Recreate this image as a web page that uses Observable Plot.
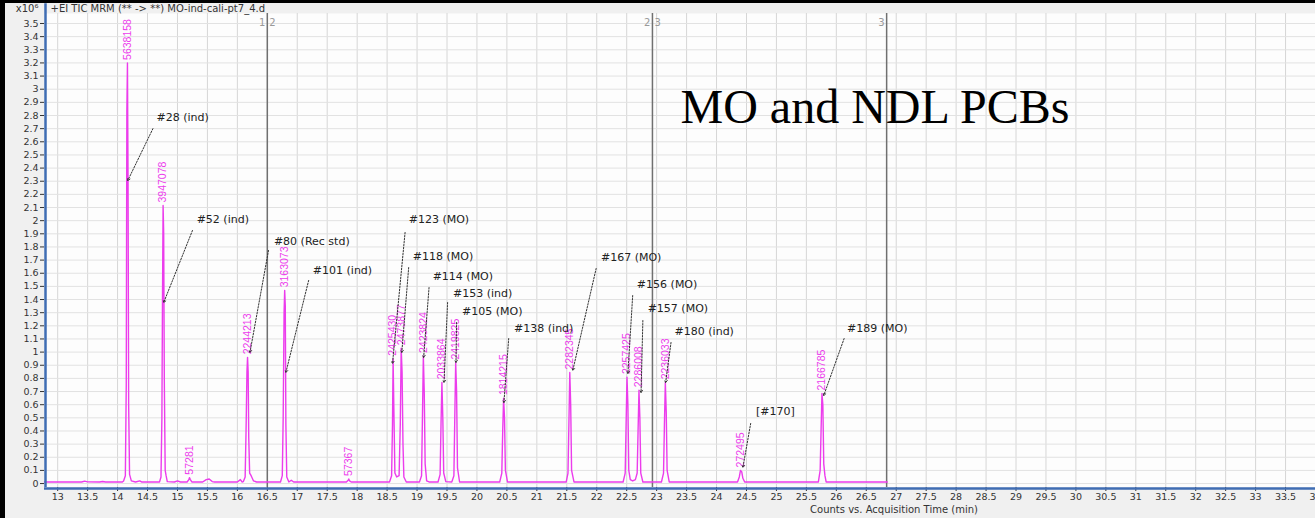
<!DOCTYPE html>
<html><head><meta charset="utf-8">
<script src="https://cdn.jsdelivr.net/npm/d3@7"></script>
<script src="https://cdn.jsdelivr.net/npm/@observablehq/plot@0.6"></script>
<style>
html,body{margin:0;padding:0;background:#000;width:1315px;height:518px;overflow:hidden;}
#chart{position:absolute;left:5px;top:3px;}
</style></head><body><div id="chart"></div>
<script>
// ---- data ----
const xTicks = [13,13.5,14,14.5,15,15.5,16,16.5,17,17.5,18,18.5,19,19.5,20,20.5,21,21.5,22,22.5,23,23.5,24,24.5,25,25.5,26,26.5,27,27.5,28,28.5,29,29.5,30,30.5,31,31.5,32,32.5,33,33.5,34];
const yTicks = [0,0.1,0.2,0.3,0.4,0.5,0.6,0.7,0.8,0.9,1,1.1,1.2,1.3,1.4,1.5,1.6,1.7,1.8,1.9,2,2.1,2.2,2.3,2.4,2.5,2.6,2.7,2.8,2.9,3,3.1,3.2,3.3,3.4,3.5];
const xDomain = [12.78, 34.0];
const yDomain = [-0.03, 3.576];
const axisTop = 3.65;

// TIC trace [time (min), counts x10^6]
const trace = [
  [12.78,0.012],[13.4,0.012],[13.45,0.018],[13.5,0.013],[13.7,0.012],[13.75,0.016],[13.8,0.012],[14.08,0.012],
  [14.10,0.02],[14.13,0.06],[14.145,0.75],[14.155,2.83],[14.165,3.20],[14.175,2.30],[14.185,0.6],[14.20,0.07],[14.23,0.02],[14.3,0.012],[14.37,0.02],[14.4,0.012],
  [14.70,0.012],[14.725,0.05],[14.74,0.5],[14.75,1.4],[14.76,2.115],[14.77,1.9],[14.78,0.8],[14.795,0.1],[14.81,0.06],[14.83,0.015],[14.95,0.012],[15.0,0.02],[15.05,0.012],
  [15.16,0.012],[15.19,0.03],[15.20,0.045],[15.215,0.03],[15.24,0.012],
  [15.42,0.012],[15.48,0.03],[15.53,0.035],[15.58,0.015],[15.62,0.012],
  [16.0,0.012],[16.05,0.03],[16.08,0.012],
  [16.10,0.015],[16.13,0.05],[16.145,0.4],[16.16,0.85],[16.17,0.96],[16.18,0.85],[16.19,0.35],[16.205,0.08],[16.23,0.06],[16.27,0.02],[16.32,0.012],
  [16.72,0.012],[16.75,0.06],[16.765,0.5],[16.78,1.3],[16.79,1.47],[16.80,1.35],[16.81,0.45],[16.825,0.05],[16.86,0.012],[16.9,0.025],[16.94,0.012],
  [17.82,0.012],[17.85,0.025],[17.86,0.035],[17.875,0.02],[17.9,0.012],
  [18.54,0.012],[18.575,0.06],[18.59,0.45],[18.60,0.95],[18.615,0.5],[18.63,0.08],
  [18.66,0.05],[18.70,0.06],[18.72,0.45],[18.735,1.03],[18.75,0.85],[18.765,0.3],[18.78,0.05],[18.82,0.012],
  [19.04,0.012],[19.075,0.06],[19.09,0.5],[19.105,0.97],[19.12,0.7],[19.135,0.15],[19.16,0.02],[19.2,0.012],
  [19.35,0.012],[19.385,0.07],[19.40,0.45],[19.415,0.77],[19.43,0.5],[19.445,0.08],[19.48,0.015],
  [19.58,0.012],[19.615,0.06],[19.63,0.5],[19.645,0.92],[19.66,0.7],[19.675,0.12],[19.71,0.012],
  [20.38,0.012],[20.415,0.08],[20.43,0.4],[20.445,0.65],[20.46,0.5],[20.475,0.1],[20.51,0.012],
  [21.49,0.012],[21.52,0.08],[21.535,0.45],[21.55,0.845],[21.565,0.6],[21.58,0.1],[21.62,0.012],
  [22.44,0.012],[22.475,0.08],[22.49,0.45],[22.505,0.81],[22.52,0.6],[22.535,0.1],[22.56,0.03],[22.6,0.02],
  [22.645,0.03],[22.675,0.08],[22.69,0.4],[22.705,0.71],[22.72,0.5],[22.735,0.08],[22.77,0.012],
  [23.08,0.012],[23.115,0.08],[23.13,0.45],[23.145,0.77],[23.16,0.55],[23.175,0.1],[23.21,0.012],
  [24.35,0.012],[24.38,0.05],[24.40,0.10],[24.42,0.09],[24.44,0.04],[24.47,0.012],
  [25.70,0.012],[25.73,0.1],[25.745,0.4],[25.76,0.685],[25.775,0.6],[25.79,0.15],[25.81,0.06],[25.83,0.012],
  [26.85,0.012]
];

// peak area labels (time, apex height, text)
const peakTimes  = [14.165,14.76,15.20,16.17,16.79,17.86,18.60,18.735,19.105,19.415,19.645,20.445,21.55,22.505,22.705,23.145,24.40,25.76];
const peakTops   = [3.20,2.115,0.045,0.96,1.47,0.035,0.95,1.03,0.97,0.77,0.92,0.65,0.845,0.81,0.71,0.77,0.10,0.685];
const peakAreas  = ["5638158","3947078","57281","2244213","3163073","57367","2425430","2473877","2423824","2033864","2419825","1814215","2282345","2257425","2286008","2236033","272495","2166785"];

// compound annotations: label position, leader start, leader tip
const annNames = ["#28 (ind)","#52 (ind)","#80 (Rec std)","#101 (ind)","#123 (MO)","#118 (MO)","#114 (MO)","#153 (ind)","#105 (MO)","#138 (ind)","#167 (MO)","#156 (MO)","#157 (MO)","#180 (ind)","[#170]","#189 (MO)"];
const annTextT  = [14.65,15.32,16.61,17.26,18.86,18.93,19.26,19.60,19.75,20.62,22.07,22.67,22.85,23.30,24.66,26.18];
const annTextV  = [2.785,2.01,1.84,1.62,2.01,1.727,1.575,1.446,1.309,1.179,1.72,1.514,1.331,1.156,0.548,1.179];
const annFromT  = [14.59,15.25,16.52,17.19,18.80,18.86,19.20,19.51,19.66,20.53,21.99,22.60,22.77,23.24,24.57,26.13];
const annFromV  = [2.70,1.925,1.773,1.545,1.91,1.643,1.491,1.377,1.225,1.103,1.636,1.43,1.24,1.073,0.457,1.103];
const annToT    = [14.17,14.77,16.21,16.81,18.59,18.745,19.11,19.45,19.65,20.45,21.60,22.52,22.74,23.15,24.44,25.79];
const annToV    = [2.305,1.377,0.997,0.845,0.913,0.997,0.959,0.768,0.921,0.616,0.86,0.837,0.692,0.768,0.122,0.67];

// time-segment boundaries
const segTimes = [16.5, 22.93, 26.84];
const segLeft  = ["1","2","3"];
const segRight = ["2","3",""];

const headerText = "+EI TIC MRM (** -> **) MO-ind-cali-pt7_4.d";
const scaleText = "x10\u2076";
const titleText = "MO and NDL PCBs";
const xLabel = "Counts vs. Acquisition Time (min)";

// ---- build tables ----
const peaks = peakTimes.map((t,i)=>({t, v: peakTops[i], text: peakAreas[i]}));
const anns = annNames.map((n,i)=>({n, tt: annTextT[i], tv: annTextV[i], ft: annFromT[i], fv: annFromV[i], pt: annToT[i], pv: annToV[i]}));
const segs = segTimes.map((t,i)=>({t, l: segLeft[i], r: segRight[i]}));

const font = "DejaVu Sans, Verdana, sans-serif";
const narrow = "Liberation Sans Narrow, Liberation Sans, Arial, sans-serif";
const magenta = "#ec3cec";
const axisBlue = "#3f6db3";
const fmt = d => String(d);

const chart = Plot.plot({
  width: 1310, height: 515,
  marginLeft: 39, marginRight: 0, marginTop: 10, marginBottom: 31,
  style: {background: "#f0f0f0", fontFamily: font, overflow: "visible"},
  x: {domain: xDomain},
  y: {domain: yDomain},
  marks: [
    Plot.frame({fill: "#fdfdfd", stroke: null}),
    Plot.gridX(xTicks, {stroke: "#d6d6d6", strokeOpacity: 1}),
    Plot.gridY(yTicks, {stroke: "#e2e2e2", strokeOpacity: 1}),
    Plot.ruleX(segs, {x: "t", stroke: "#707070", strokeWidth: 1.5}),
    Plot.text(segs, {x: "t", text: "l", frameAnchor: "top", lineAnchor: "middle", textAnchor: "end", dx: -2, dy: 9, fill: "#999", fontSize: 10}),
    Plot.text(segs, {x: "t", text: "r", frameAnchor: "top", lineAnchor: "middle", textAnchor: "start", dx: 2, dy: 9, fill: "#999", fontSize: 10}),
    Plot.line(trace, {x: d => d[0], y: d => d[1], stroke: magenta, strokeWidth: 1.4}),
    Plot.text(peaks, {x: "t", y: "v", text: "text", rotate: -90, textAnchor: "start", lineAnchor: "middle", dy: -3, fill: magenta, fontSize: 10.5, fontFamily: narrow}),
    Plot.arrow(anns, {x1: "ft", y1: "fv", x2: "pt", y2: "pv", stroke: "#333", strokeWidth: 1, strokeDasharray: "1.5,1.5", headLength: 4}),
    Plot.text(anns, {x: "tt", y: "tv", text: "n", textAnchor: "start", fill: "#222", fontSize: 11}),
    Plot.axisY(yTicks, {anchor: "left", tickSize: 4, tickPadding: 2, fontSize: 9.5, fill: "#333", stroke: "#333", label: null, tickFormat: fmt}),
    Plot.axisX(xTicks, {anchor: "bottom", tickSize: 4, tickPadding: 2, fontSize: 9.5, fill: "#333", stroke: "#333", label: null, tickFormat: fmt}),
    Plot.ruleX([xDomain[0]], {y1: yDomain[0], y2: axisTop, stroke: axisBlue, strokeWidth: 2.5, dx: 1}),
    Plot.ruleY([yDomain[0]], {stroke: axisBlue, strokeWidth: 2.5, dy: 1}),
    Plot.text([headerText], {frameAnchor: "top-left", lineAnchor: "middle", textAnchor: "start", dx: 6, dy: -5, fontSize: 10, fill: "#333"}),
    Plot.text([scaleText], {frameAnchor: "top-left", lineAnchor: "middle", textAnchor: "end", dx: -6, dy: -5, fontSize: 10, fill: "#333"}),
    Plot.text([xLabel], {frameAnchor: "bottom", lineAnchor: "middle", textAnchor: "middle", dx: 214, dy: 22, fontSize: 10, fill: "#333"}),
    Plot.text([titleText], {frameAnchor: "top-left", lineAnchor: "middle", textAnchor: "start", dx: 636, dy: 94, fontSize: 48, fontFamily: "Liberation Serif, Times New Roman, serif", fill: "#000"})
  ]
});
document.getElementById("chart").appendChild(chart);
</script>
</body></html>
